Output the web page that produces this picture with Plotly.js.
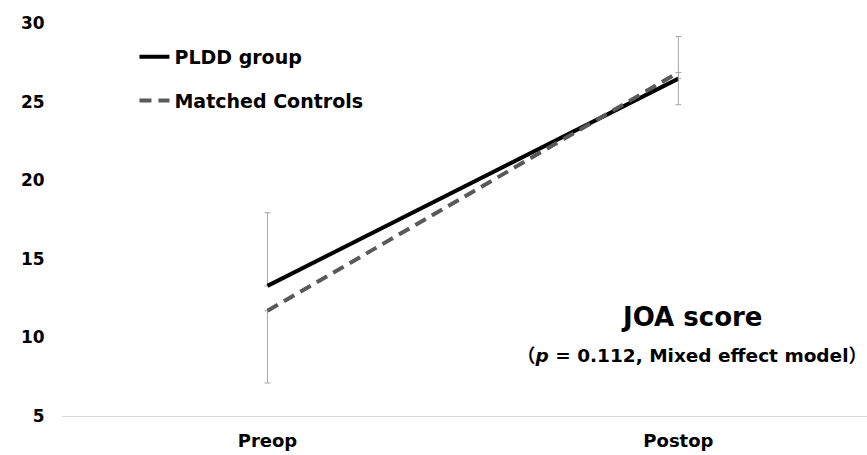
<!DOCTYPE html>
<html>
<head>
<meta charset="utf-8">
<script src="https://cdn.plot.ly/plotly-3.0.1.min.js"></script>
<style>html,body{margin:0;padding:0;background:#fff}</style>
</head>
<body>
<div id="chart" style="width:867px;height:455px"></div>
<script>
const categories = ["Preop", "Postop"];
const plddValues = [13.28, 26.46];
const plddErrPlus = [4.65, 2.68];
const controlValues = [11.69, 26.85];
const controlErrMinus = [4.59, 2.05];
const yTicks = [5, 10, 15, 20, 25, 30];

const FONT = "'DejaVu Sans', 'Noto Sans CJK JP', sans-serif";

const traces = [
  {
    x: categories, y: plddValues, type: "scatter", mode: "lines",
    name: "<b>PLDD group</b>", legendgroup: "a",
    line: {color: "#000000", width: 4},
    error_y: {type: "data", symmetric: false, array: plddErrPlus, arrayminus: [0, 0],
              color: "#a6a6a6", thickness: 1, width: 3}
  },
  {
    x: categories, y: controlValues, type: "scatter", mode: "lines",
    name: "<b>Matched Controls</b>", legendgroup: "b",
    line: {color: "#595959", width: 4, dash: "12px,7px"},
    error_y: {type: "data", symmetric: false, array: [0, 0], arrayminus: controlErrMinus,
              color: "#a6a6a6", thickness: 1, width: 3}
  }
];

const layout = {
  width: 867, height: 455,
  margin: {l: 62, r: 0, t: 23, b: 39},
  paper_bgcolor: "#ffffff", plot_bgcolor: "#ffffff",
  font: {family: FONT, color: "#000000", size: 18},
  showlegend: true,
  legend: {x: 0.09, y: 0.962, xanchor: "left", yanchor: "top",
           traceorder: "grouped", tracegroupgap: 16,
           font: {family: FONT, size: 19, color: "#000"}, bgcolor: "rgba(0,0,0,0)"},
  xaxis: {type: "category", range: [-0.5, 1.459], showgrid: false, zeroline: false,
          showline: true, linecolor: "#d9d9d9", linewidth: 1,
          ticks: "outside", ticklen: 8, tickcolor: "rgba(0,0,0,0)",
          tickvals: categories, ticktext: categories.map(c => "<b>" + c + "</b>"),
          tickfont: {family: FONT, size: 18, color: "#000"}},
  yaxis: {range: [5, 30], showgrid: false, zeroline: false, showline: false,
          tickvals: yTicks, ticktext: yTicks.map(v => "<b>" + v + "</b>"),
          ticks: "outside", ticklen: 13, tickcolor: "rgba(0,0,0,0)",
          tickfont: {family: FONT, size: 17, color: "#000"}},
  annotations: [
    {xref: "paper", yref: "paper", x: 0.7826, y: 0.251, xanchor: "center", yanchor: "middle",
     text: "<b>JOA score</b>", showarrow: false, font: {family: FONT, size: 26, color: "#000"}},
    {xref: "paper", yref: "paper", x: 0.7826, y: 0.153, xanchor: "center", yanchor: "middle",
     text: "<b>（<i>p</i> = 0.112, Mixed effect model）</b>", showarrow: false,
     font: {family: FONT, size: 18.5, color: "#000"}}
  ]
};

Plotly.newPlot("chart", traces, layout, {displayModeBar: false, staticPlot: true});
</script>
</body>
</html>
